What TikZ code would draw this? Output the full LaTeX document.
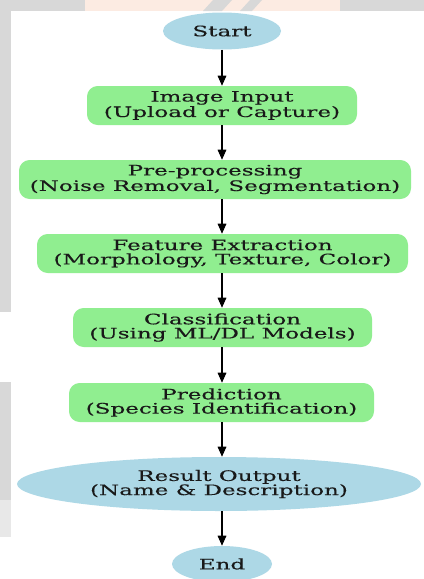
\documentclass[tikz,border=0pt]{standalone}
\usepackage{fontspec}
\setmainfont[FakeStretch=1.6,FakeBold=0.2]{DejaVu Serif}
\usetikzlibrary{shapes.geometric,arrows.meta}
\definecolor{nodeblue}{HTML}{ADD8E6}
\definecolor{nodegreen}{HTML}{90EE90}
\definecolor{stripgray}{HTML}{D8D8D8}
\definecolor{wmpeach}{HTML}{FCEBE2}
\begin{document}
\begin{tikzpicture}[x=0.75pt,y=-0.75pt,
  every node/.style={font=\fontsize{10.8pt}{10.6pt}\selectfont, text=black!90, align=center, inner sep=0pt},
  oval/.style={ellipse, fill=nodeblue},
  procbox/.style={rectangle, rounded corners=8pt, fill=nodegreen, minimum height=29.25pt},
  flow/.style={-{Triangle[length=7.5pt,width=6.5pt]}, line width=0.8pt, black}]
\useasboundingbox (0,0) rectangle (424,579);
% background and watermark strips
\fill[white] (0,0) rectangle (424,579);
\fill[stripgray] (0,0) rectangle (424,11);
\fill[wmpeach] (85,0) rectangle (340,11);
\fill[stripgray] (213,0) -- (232,0) -- (222,11) -- (203,11) -- cycle;
\fill[stripgray] (250,0) -- (262,0) -- (252,11) -- (240,11) -- cycle;
\fill[stripgray] (0,0) rectangle (11,312);
\fill[stripgray] (0,382) rectangle (11,500);
\fill[stripgray!60] (0,500) rectangle (11,537);
% nodes
\node[oval, minimum width=88.5pt, minimum height=27.75pt] (start) at (222,31) {Start};
\node[procbox, minimum width=202.5pt] (img) at (222,105.5) {Image Input\\(Upload or Capture)};
\node[procbox, minimum width=294pt] (pre) at (215,179.5) {Pre-processing\\(Noise Removal, Segmentation)};
\node[procbox, minimum width=278.25pt] (feat) at (222.5,253.5) {Feature Extraction\\(Morphology, Texture, Color)};
\node[procbox, minimum width=224.25pt] (cls) at (222.5,327.5) {Classification\\(Using ML/DL Models)};
\node[procbox, minimum width=228.75pt] (pred) at (221.5,402.5) {Prediction\\(Species Identification)};
\node[oval, minimum width=303pt, minimum height=40.5pt] (res) at (219,484) {Result Output\\(Name \& Description)};
\node[oval, minimum width=75pt, minimum height=27pt] (end) at (222,564) {End};
% connectors
\draw[flow] (start.south) -- (start.south |- img.north);
\draw[flow] (start.south |- img.south) -- (start.south |- pre.north);
\draw[flow] (start.south |- pre.south) -- (start.south |- feat.north);
\draw[flow] (start.south |- feat.south) -- (start.south |- cls.north);
\draw[flow] (start.south |- cls.south) -- (start.south |- pred.north);
\draw[flow] (start.south |- pred.south) -- (start.south |- res.north);
\draw[flow] (start.south |- res.south) -- (end.north);
\end{tikzpicture}
\end{document}
